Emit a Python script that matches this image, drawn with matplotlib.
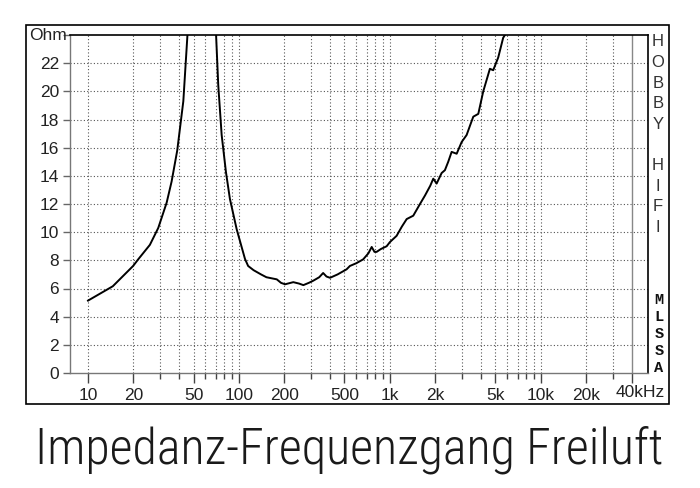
import matplotlib
matplotlib.use('Agg')
import matplotlib.pyplot as plt
from matplotlib.patches import Rectangle
from matplotlib import font_manager
import matplotlib.transforms as mtransforms

# ---- data ----
freq_hz = [10, 14.6, 19.9, 21.5, 25.7, 29.2, 33.2, 35.8, 39.0, 42.8, 45.7, 50, 56, 63,
           70.4, 72.9, 76.8, 82.0, 87.1, 96.6, 109.6, 115, 125, 140, 152, 178, 190, 202,
           229, 250, 267, 290, 310, 340, 361, 380, 401, 450, 516, 543, 600, 665, 720,
           757, 790, 816, 870, 951, 1000, 1107, 1200, 1291, 1427, 1581, 1706, 1850,
           1937, 2038, 2200, 2312, 2433, 2562, 2767, 2985, 3221, 3400, 3565, 3848,
           4150, 4366, 4592, 4831, 5213, 5623, 5929, 6300]
impedance_ohm = [5.14, 6.16, 7.6, 8.07, 9.1, 10.3, 12.1, 13.6, 15.8, 19.3, 24.2, 32, 40, 32,
                 24.2, 20.45, 16.9, 14.26, 12.36, 10.2, 8.1, 7.6, 7.3, 7.0, 6.8, 6.65, 6.4, 6.3,
                 6.45, 6.35, 6.24, 6.4, 6.55, 6.8, 7.1, 6.85, 6.76, 7.0, 7.36, 7.6, 7.8, 8.07, 8.5,
                 8.95, 8.6, 8.6, 8.8, 9.0, 9.3, 9.74, 10.4, 10.93, 11.17, 12.0, 12.6, 13.3,
                 13.8, 13.45, 14.2, 14.4, 15.0, 15.7, 15.57, 16.4, 16.9, 17.6, 18.2, 18.4,
                 20.0, 20.8, 21.6, 21.5, 22.4, 23.8, 24.2, 25.5]

x_major_ticks = [10, 20, 50, 100, 200, 500, 1000, 2000, 5000, 10000, 20000, 40000]
x_major_labels = ['10', '20', '50', '100', '200', '500', '1k', '2k', '5k', '10k', '20k', '40kHz']
x_minor_ticks = [k * 10 ** e for e in range(1, 5) for k in range(1, 10)
                 if k * 10 ** e <= 40000 and k * 10 ** e not in x_major_ticks]
y_ticks = [0, 2, 4, 6, 8, 10, 12, 14, 16, 18, 20, 22, 24]
y_labels = ['0', '2', '4', '6', '8', '10', '12', '14', '16', '18', '20', '22', 'Ohm']

title_text = 'Impedanz-Frequenzgang Freiluft'
side_text = 'HOBBY HIFI'
side_text2 = 'MLSSA'

W, H = 700, 488
fig = plt.figure(figsize=(7, 4.88), dpi=100)
fig.patch.set_facecolor('white')

ax = fig.add_axes([70 / W, 1 - 373 / H, (648 - 70) / W, (373 - 35) / H])
ax.set_xscale('log')
ax.set_xlim(7.6, 51200)
ax.set_ylim(0, 24)

lab_font = ['Liberation Sans', 'DejaVu Sans']
blend = mtransforms.blended_transform_factory(ax.transData, ax.transAxes)
blend_y = mtransforms.blended_transform_factory(ax.transAxes, ax.transData)

ax.set_xticks(x_major_ticks)
ax.set_xticks(x_minor_ticks, minor=True)
ax.set_xticklabels(x_major_labels[:-1] + [''], family=lab_font, fontsize=12.5, color='#222')
ax.set_xticklabels([''] * len(x_minor_ticks), minor=True)
ax.set_yticks(y_ticks)
ax.set_yticklabels(y_labels[:-1] + [''], family=lab_font, fontsize=12.5, color='#222')
ax.text(40000, 0.0, x_major_labels[-1], family=lab_font, fontsize=12.5, color='#222',
        ha='center', va='top',
        transform=blend + mtransforms.ScaledTranslation(8 / 100, -12 / 100, fig.dpi_scale_trans))
ax.text(0, y_ticks[-1], y_labels[-1], family=lab_font, fontsize=12.5, color='#222',
        ha='right', va='center',
        transform=blend_y + mtransforms.ScaledTranslation(-3 / 100, -1 / 100, fig.dpi_scale_trans))

ax.tick_params(axis='x', which='major', direction='out', length=7, width=1.0, color='#444', pad=4)
ax.tick_params(axis='x', which='minor', direction='out', length=4, width=1.0, color='#444')
ax.tick_params(axis='y', which='major', direction='out', length=5, width=1.0, color='#666', pad=3)

# dotted grid
dots = (0, (1, 2))
for x in x_major_ticks[:-1] + x_minor_ticks:
    ax.axvline(x, color='#555', lw=0.8, ls=dots, zorder=1)
for y in y_ticks[1:-1]:
    ax.axhline(y, color='#555', lw=0.8, ls=dots, zorder=1)
ax.axvline(40000, color='#888', lw=1.0, zorder=1)

ax.plot(freq_hz, impedance_ohm, color='black', lw=1.4, zorder=3)

for side in ('left', 'bottom'):
    ax.spines[side].set_color('#777')
    ax.spines[side].set_linewidth(1.0)
for side in ('top', 'right'):
    ax.spines[side].set_color('black')
    ax.spines[side].set_linewidth(1.2)

# outer frame
fig.add_artist(Rectangle((26 / W, 1 - 404 / H), (669 - 26) / W, (404 - 25) / H,
                         transform=fig.transFigure, fill=False, lw=1.2, ec='black'))

# side texts
for i, ch in enumerate(side_text):
    if ch.strip():
        fig.text(658 / W, 1 - (42 + i * 20.6) / H, ch, ha='center', va='center',
                 fontsize=12, family=lab_font, color='#333')
for i, ch in enumerate(side_text2):
    fig.text(659 / W, 1 - (300 + i * 17) / H, ch, ha='center', va='center',
             fontsize=11, family=['Liberation Mono', 'DejaVu Sans Mono'],
             fontweight='bold', color='#111')

# title with condensed font if available
title_fam = ['DejaVu Sans']
for cand in ['Liberation Sans Narrow', 'Roboto Condensed', 'Open Sans Condensed', 'Liberation Sans']:
    try:
        font_manager.findfont(font_manager.FontProperties(family=cand), fallback_to_default=False)
        title_fam = [cand, 'DejaVu Sans']
        break
    except Exception:
        pass
t = fig.text(349 / W, 1 - 450 / H, title_text, ha='center', va='center',
             fontsize=34, family=title_fam, fontweight='light', color='#1a1a1a')
fig.canvas.draw()
bb = t.get_window_extent()
target_w = 638
fs = 34 * target_w / bb.width
fs = min(fs, 36)
t.set_fontsize(fs)

fig.savefig('out.png', dpi=100)
